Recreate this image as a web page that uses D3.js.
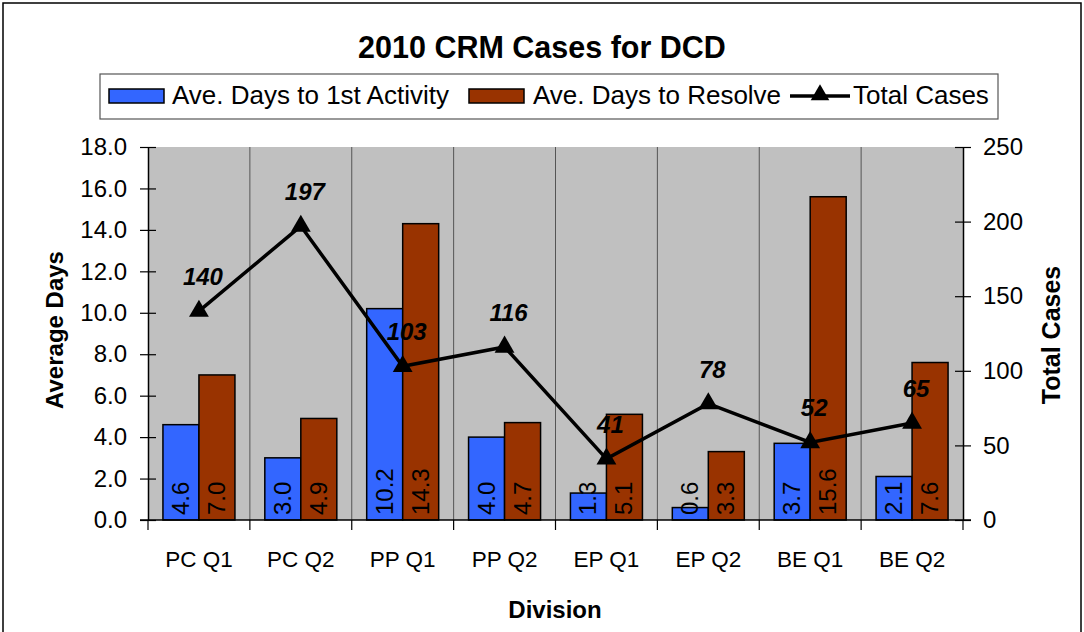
<!DOCTYPE html>
<html><head><meta charset="utf-8">
<script src="https://cdn.jsdelivr.net/npm/d3@7"></script>
<style>body{margin:0;background:#fff}svg{display:block;font-family:"Liberation Sans",Arial,sans-serif}</style>
</head><body><svg id="c" width="1084" height="632"></svg>
<script>
const categories = ["PC Q1","PC Q2","PP Q1","PP Q2","EP Q1","EP Q2","BE Q1","BE Q2"];
const daysToFirst = [4.6,3.0,10.2,4.0,1.3,0.6,3.7,2.1];
const daysToResolve = [7.0,4.9,14.3,4.7,5.1,3.3,15.6,7.6];
const totalCases = [140,197,103,116,41,78,52,65];
const leftTicks = [0,2,4,6,8,10,12,14,16,18];
const rightTicks = [0,50,100,150,200,250];
const seriesNames = ["Ave. Days to 1st Activity","Ave. Days to Resolve","Total Cases"];
const colors = ["#3366FF","#993300"];

const svg = d3.select("#c");
svg.append("rect").attr("x",3).attr("y",3).attr("width",1078).attr("height",640)
  .attr("fill","#fff").attr("stroke","#000").attr("stroke-width",1.5);

const L=148,R=963,T=147,B=520;
const x = d3.scaleBand().domain(categories).range([L,R]).paddingInner(0).paddingOuter(0);
const xs = d3.scaleBand().domain([0,1]).range([0,x.bandwidth()]).paddingInner(0).paddingOuter(0.415);
const yL = d3.scaleLinear().domain([0,18]).range([B,T]);
const yR = d3.scaleLinear().domain([0,250]).range([B,T]);

svg.append("rect").attr("x",L).attr("y",T).attr("width",R-L).attr("height",B-T).attr("fill","#C0C0C0");
svg.append("g").selectAll("line").data(categories.slice(1)).join("line")
  .attr("x1",d=>x(d)).attr("x2",d=>x(d)).attr("y1",T).attr("y2",B)
  .attr("stroke","#555").attr("stroke-width",1);

const series=[daysToFirst,daysToResolve];
series.forEach((vals,si)=>{
  const g=svg.append("g");
  g.selectAll("rect").data(vals).join("rect")
    .attr("x",(d,i)=>x(categories[i])+xs(si)).attr("width",xs.bandwidth())
    .attr("y",d=>yL(d)).attr("height",d=>B-yL(d))
    .attr("fill",colors[si]).attr("stroke","#000").attr("stroke-width",1.5);
  g.selectAll("text").data(vals).join("text")
    .attr("transform",(d,i)=>`translate(${x(categories[i])+xs(si)+xs.bandwidth()/2+8},${B-5}) rotate(-90)`)
    .attr("font-size",24).attr("fill","#000").text(d=>d.toFixed(1));
});

const axL = d3.axisLeft(yL).tickValues(leftTicks).tickFormat(d3.format(".1f")).tickSize(0).tickPadding(21);
const gL = svg.append("g").attr("transform",`translate(${L},0)`).call(axL);
gL.select(".domain").attr("stroke","#000").attr("stroke-width",1.5);
gL.selectAll("text").attr("font-size",24).attr("fill","#000").attr("font-family","Liberation Sans, Arial");
gL.selectAll(".tick").append("line").attr("x1",-8).attr("x2",8).attr("stroke","#000").attr("stroke-width",1.2);

const axR = d3.axisRight(yR).tickValues(rightTicks).tickSize(0).tickPadding(20);
const gR = svg.append("g").attr("transform",`translate(${R},0)`).call(axR);
gR.select(".domain").attr("stroke","#000").attr("stroke-width",1.5);
gR.selectAll("text").attr("font-size",24).attr("fill","#000").attr("font-family","Liberation Sans, Arial");
gR.selectAll(".tick").append("line").attr("x1",-8).attr("x2",8).attr("stroke","#000").attr("stroke-width",1.2);

svg.append("line").attr("x1",L-8).attr("x2",R+8).attr("y1",B).attr("y2",B).attr("stroke","#000").attr("stroke-width",1.5);
svg.append("g").selectAll("line").data(categories.concat(["__end"])).join("line")
  .attr("x1",(d,i)=>i<categories.length?x(d):R).attr("x2",(d,i)=>i<categories.length?x(d):R)
  .attr("y1",B).attr("y2",B+10).attr("stroke","#000").attr("stroke-width",1.2);
svg.append("g").selectAll("text").data(categories).join("text")
  .attr("x",d=>x(d)+x.bandwidth()/2).attr("y",567).attr("text-anchor","middle")
  .attr("font-size",22.5).text(d=>d);

const cx = (i)=>x(categories[i])+x.bandwidth()/2;
const line = d3.line().x((d,i)=>cx(i)).y(d=>yR(d));
svg.append("path").datum(totalCases).attr("d",line).attr("fill","none").attr("stroke","#000").attr("stroke-width",3.5);
svg.append("g").selectAll("path").data(totalCases).join("path")
  .attr("transform",(d,i)=>`translate(${cx(i)},${yR(d)})`)
  .attr("d",d3.symbol(d3.symbolTriangle,170)).attr("fill","#000");
svg.append("g").selectAll("text").data(totalCases).join("text")
  .attr("x",(d,i)=>cx(i)+4).attr("y",d=>yR(d)-26).attr("text-anchor","middle")
  .attr("font-size",24).attr("font-weight","bold").attr("font-style","italic").text(d=>d);

svg.append("text").attr("x",542).attr("y",58).attr("text-anchor","middle")
  .attr("font-size",30.5).attr("font-weight","bold").text("2010 CRM Cases for DCD");
svg.append("text").attr("transform","translate(63,330) rotate(-90)").attr("text-anchor","middle")
  .attr("font-size",24).attr("font-weight","bold").text("Average Days");
svg.append("text").attr("transform","translate(1060,335) rotate(-90)").attr("text-anchor","middle")
  .attr("font-size",25).attr("font-weight","bold").text("Total Cases");
svg.append("text").attr("x",555).attr("y",618).attr("text-anchor","middle")
  .attr("font-size",24).attr("font-weight","bold").text("Division");

const lg = svg.append("g");
lg.append("rect").attr("x",100).attr("y",74).attr("width",898).attr("height",45).attr("fill","#fff").attr("stroke","#555").attr("stroke-width",1.2);
const legX=[109,469,790];
const legTextX=[172,533,853];
[0,1].forEach(i=>{
  lg.append("rect").attr("x",legX[i]).attr("y",89).attr("width",55).attr("height",14)
    .attr("fill",colors[i]).attr("stroke","#000").attr("stroke-width",1.5);
  lg.append("text").attr("x",legTextX[i]).attr("y",104).attr("font-size",26).text(seriesNames[i]);
});
lg.append("line").attr("x1",legX[2]).attr("x2",legX[2]+60).attr("y1",96).attr("y2",96).attr("stroke","#000").attr("stroke-width",3.5);
lg.append("path").attr("transform",`translate(${legX[2]+30},95)`).attr("d",d3.symbol(d3.symbolTriangle,150)).attr("fill","#000");
lg.append("text").attr("x",legTextX[2]).attr("y",104).attr("font-size",26).text(seriesNames[2]);
</script></body></html>
